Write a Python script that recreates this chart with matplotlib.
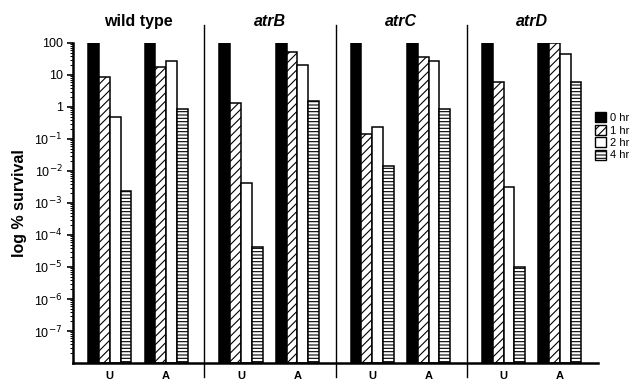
import matplotlib.pyplot as plt
import numpy as np
from matplotlib.patches import Patch
from matplotlib.ticker import LogLocator, NullFormatter

plt.rcParams['font.family'] = ['Liberation Sans', 'DejaVu Sans']
plt.rcParams['hatch.linewidth'] = 0.8

strains = ['wild type', 'atrB', 'atrC', 'atrD']
treatments = ['U', 'A']
times = ['0 hr', '1 hr', '2 hr', '4 hr']

# % survival per strain, [U, A] x [0, 1, 2, 4 hr]
wild_type = [[100, 8.7, 0.49, 2.4e-3], [100, 17.8, 27, 0.87]]
atrB = [[100, 1.33, 4.2e-3, 4.2e-5], [100, 52, 20.5, 1.5]]
atrC = [[100, 0.14, 0.24, 0.0145], [100, 36, 27, 0.87]]
atrD = [[100, 6, 3.2e-3, 1.0e-5], [100, 100, 45, 6]]
survival = [wild_type, atrB, atrC, atrD]

fills = ['black', 'white', 'white', 'white']
hatches = [None, '////', None, '-----']

fig = plt.figure(figsize=(6.42, 3.81), dpi=100)
ax = fig.add_axes([0.1137, 0.0472, 0.8178, 0.8401])

width = 0.082
offsets = (np.arange(4) - 1.5) * width
centers = [0.28, 0.71]

for g, data in enumerate(survival):
    for t, vals in enumerate(data):
        x0 = g + centers[t]
        for k in range(4):
            ax.bar(x0 + offsets[k], vals[k], width=width, bottom=1e-8,
                   color=fills[k], edgecolor='black', hatch=hatches[k],
                   linewidth=1.1, zorder=2)

ax.set_yscale('log')
ax.set_ylim(1e-8, 100)
ax.set_xlim(0, 4)

yt = [1e2, 1e1, 1, 1e-1, 1e-2, 1e-3, 1e-4, 1e-5, 1e-6, 1e-7]
ylab = ['100', '10', '1'] + [r'10$^{-%d}$' % i for i in range(1, 8)]
ax.set_yticks(yt)
ax.set_yticklabels(ylab, fontsize=9)
ax.yaxis.set_minor_locator(LogLocator(base=10, subs=np.arange(2, 10), numticks=50))
ax.yaxis.set_minor_formatter(NullFormatter())
ax.tick_params(axis='y', which='major', length=4, width=1.2, direction='out')
ax.tick_params(axis='y', which='minor', length=2, width=0.7, direction='out')

xt = [g + c for g in range(4) for c in centers]
ax.set_xticks(xt)
ax.set_xticklabels(treatments * 4, fontsize=8, fontweight='bold')
ax.tick_params(axis='x', length=0, pad=6)

for s in ['top', 'right']:
    ax.spines[s].set_visible(False)
ax.spines['left'].set_linewidth(1.8)
ax.spines['bottom'].set_linewidth(1.8)

# separators between strains
for g in range(1, 4):
    ax.plot([g, g], [-0.045, 1.056], color='black', lw=1.0,
            transform=ax.get_xaxis_transform(), clip_on=False)

for g, name in enumerate(strains):
    style = 'normal' if name == 'wild type' else 'italic'
    ax.text(g + 0.5, 1.045, name, transform=ax.get_xaxis_transform(),
            ha='center', va='bottom', fontsize=11.5, fontweight='bold',
            fontstyle=style)

ax.set_ylabel('log % survival', fontsize=11.5, fontweight='bold', labelpad=5)

handles = [Patch(facecolor=fills[k], edgecolor='black', hatch=hatches[k])
           for k in range(4)]
fig.legend(handles, times, loc='center left', bbox_to_anchor=(0.927, 0.642),
           frameon=False, fontsize=8, handlelength=1.0, handleheight=1.0,
           handletextpad=0.3, labelspacing=0.15, borderpad=0,
           borderaxespad=0)

fig.savefig('out.png', dpi=100)
